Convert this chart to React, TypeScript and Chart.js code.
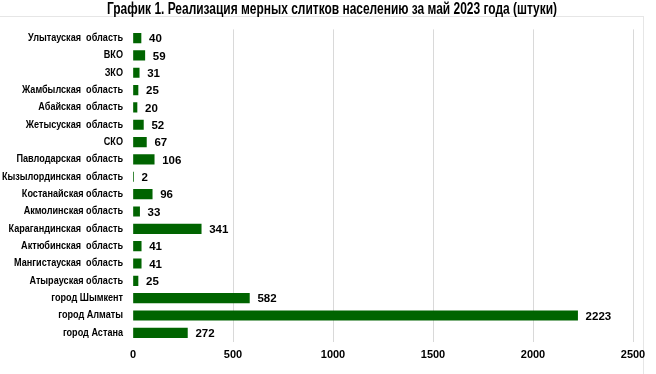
import React, { useEffect, useRef } from "react";
import { Chart, registerables } from "chart.js";

Chart.register(...registerables);

const TITLE = "График 1. Реализация мерных слитков населению за май 2023 года (штуки)";

const categories = [
  "Улытауская  область",
  "ВКО",
  "ЗКО",
  "Жамбылская  область",
  "Абайская  область",
  "Жетысуская  область",
  "СКО",
  "Павлодарская  область",
  "Кызылординская  область",
  "Костанайская область",
  "Акмолинская область",
  "Карагандинская  область",
  "Актюбинская  область",
  "Мангистауская  область",
  "Атырауская область",
  "город Шымкент",
  "город Алматы",
  "город Астана",
];

const values = [40, 59, 31, 25, 20, 52, 67, 106, 2, 96, 33, 341, 41, 41, 25, 582, 2223, 272];

const xTicks = [0, 500, 1000, 1500, 2000, 2500];

const FONT = "'Liberation Sans', Arial, sans-serif";

// Draws value labels, category labels (condensed, right-aligned) and the title.
const textPlugin = {
  id: "textPlugin",
  afterDraw(chart: any) {
    const ctx = chart.ctx;
    ctx.save();
    // value labels
    const meta = chart.getDatasetMeta(0);
    ctx.font = `bold 11.5px ${FONT}`;
    ctx.fillStyle = "#000";
    ctx.textAlign = "left";
    ctx.textBaseline = "middle";
    meta.data.forEach((bar: any, i: number) => {
      ctx.fillText(String(values[i]), bar.x + 8, bar.y + 1);
    });

    // category labels
    const yScale = chart.scales.y;
    ctx.font = `bold 10.5px ${FONT}`;
    let widest = 0;
    categories.forEach((c) => {
      widest = Math.max(widest, ctx.measureText(c).width);
    });
    const sx = Math.min(1, 121 / widest);
    ctx.textAlign = "right";
    categories.forEach((c, i) => {
      const y = yScale.getPixelForTick(i);
      ctx.save();
      ctx.translate(123, y);
      ctx.scale(sx, 1);
      ctx.fillText(c, 0, 0);
      ctx.restore();
    });

    // title
    ctx.font = `bold 16px ${FONT}`;
    const tw = ctx.measureText(TITLE).width;
    const tsx = Math.min(1, 450 / tw);
    ctx.textAlign = "center";
    ctx.save();
    ctx.translate(332, 10);
    ctx.scale(tsx, 1);
    ctx.fillText(TITLE, 0, 0);
    ctx.restore();

    ctx.restore();
  },
};

export default function App() {
  const ref = useRef<HTMLCanvasElement>(null);
  useEffect(() => {
    if (!ref.current) return;
    const chart = new Chart(ref.current, {
      type: "bar",
      data: {
        labels: categories,
        datasets: [
          {
            data: values,
            backgroundColor: "#006400",
            barThickness: 9.5,
          },
        ],
      },
      plugins: [textPlugin],
      options: {
        indexAxis: "y",
        animation: false,
        responsive: false,
        maintainAspectRatio: false,
        layout: { padding: { left: 0, right: 23, top: 29.4, bottom: 5.3 } },
        plugins: {
          legend: { display: false },
          tooltip: { enabled: false },
          title: { display: false },
        },
        scales: {
          x: {
            min: 0,
            max: 2500,
            afterBuildTicks(scale: any) {
              scale.ticks = xTicks.map((v) => ({ value: v }));
            },
            grid: {
              color: (c: any) => (c.tick && c.tick.value === 0 ? "rgba(0,0,0,0)" : "#d9d9d9"),
              drawTicks: false,
            },
            border: { display: false },
            ticks: {
              color: "#000",
              padding: 7,
              font: { family: FONT, size: 11, weight: "bold" },
              callback: (v: any) => String(v),
            },
          },
          y: {
            afterFit(scale: any) {
              scale.width = 133;
            },
            grid: { display: false, drawTicks: false },
            border: { display: false },
            ticks: { display: false },
          },
        },
      },
    });
    return () => chart.destroy();
  }, []);
  return (
    <div style={{ position: "fixed", left: 0, top: 0, width: 656, height: 374, background: "#fff" }}>
      <div
        style={{
          position: "absolute",
          left: 0,
          top: 16,
          width: 643,
          height: 380,
          borderTop: "1px solid #e6e6e6",
          borderRight: "1px solid #e6e6e6",
        }}
      />
      <canvas ref={ref} width={656} height={374} style={{ position: "absolute", left: 0, top: 0 }} />
    </div>
  );
}
